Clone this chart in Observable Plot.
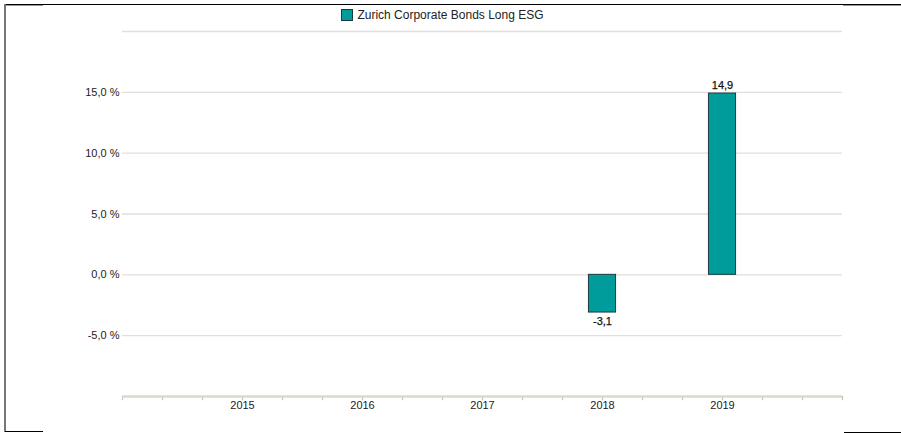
<!DOCTYPE html>
<html>
<head>
<meta charset="utf-8">
<script src="https://cdn.jsdelivr.net/npm/d3@7"></script>
<script src="https://cdn.jsdelivr.net/npm/@observablehq/plot@0.6"></script>
<style>
  html, body { margin: 0; padding: 0; background: #fff; }
  #wrap { position: relative; width: 901px; height: 433px; overflow: hidden; font-family: "Liberation Sans", Arial, sans-serif; }
  #legend { height: 26px; display: flex; justify-content: center; align-items: center; font-size: 12px; color: #222; padding-top: 4px; padding-right: 16px; box-sizing: border-box; }
  #legend .sw { width: 10px; height: 10px; background: #009b9b; border: 1px solid #1d3b3b; margin-right: 4px; }
  .ln { position: absolute; }
</style>
</head>
<body>
<div id="wrap">
  <div id="legend"></div>
  <div id="chart"></div>
  <div class="ln" style="left:5px;top:4px;width:896px;height:1px;background:#000"></div>
  <div class="ln" style="left:5px;top:5px;width:38px;height:1px;background:#999"></div>
  <div class="ln" style="left:843px;top:5px;width:58px;height:1px;background:#999"></div>
  <div class="ln" style="left:4px;top:4px;width:2px;height:428px;background:#777"></div>
  <div class="ln" style="left:5px;top:431px;width:38px;height:1px;background:#000"></div>
  <div class="ln" style="left:844px;top:432px;width:57px;height:1px;background:#000"></div>
</div>
<script>
const seriesName = "Zurich Corporate Bonds Long ESG";
const years = [2015, 2016, 2017, 2018, 2019];
const values = [null, null, null, -3.1, 14.9];
const yTicks = [-5, 0, 5, 10, 15];
const yGrid = [-5, 0, 5, 10, 15, 20];

const data = years.map((y, i) => ({year: y, value: values[i]})).filter(d => d.value != null);
const fmtPct = d => d.toFixed(1).replace(".", ",") + " %";
const fmtVal = d => d.toFixed(1).replace(".", ",");

document.getElementById("legend").innerHTML = `<span class="sw"></span><span>${seriesName}</span>`;

const minorTicks = d3.range(0, 19).map(i => 2014 + i / 3);
const half = 0.113;

const chart = Plot.plot({
  width: 901,
  height: 407,
  marginLeft: 122,
  marginRight: 59,
  marginTop: 5,
  marginBottom: 37,
  style: { fontFamily: "Liberation Sans, Arial, sans-serif", fontSize: "11px", color: "#222", background: "transparent" },
  x: { type: "linear", domain: [2014, 2020], axis: null, label: null },
  y: { domain: [-10, 20], axis: null, label: null },
  marks: [
    Plot.ruleY(yGrid, { stroke: "#e2dfd8", strokeWidth: 1.3 }),
    Plot.axisY(yTicks, { tickSize: 0, tickPadding: 3, tickFormat: fmtPct, fill: "#222", fontSize: 11, label: null }),
    Plot.ruleX(minorTicks, { x: d => d, y1: -10, y2: -10.35, stroke: "#c9c5ba", strokeWidth: 1.3 }),
    Plot.ruleY([-10], { stroke: "#dcd8cf", strokeWidth: 2.5 }),
    Plot.axisX(years, { tickSize: 0, tickPadding: 5, tickFormat: d => String(d), fill: "#222", fontSize: 11, label: null }),
    Plot.rectY(data, { x1: d => d.year - half, x2: d => d.year + half, y1: 0, y2: "value", fill: "#009b9b", stroke: "#1d3b3b", strokeWidth: 1 }),
    Plot.text(data, { x: "year", y: "value", text: d => fmtVal(d.value), fill: "#111", fontSize: 11, stroke: "#111", strokeWidth: 0.25,
      lineAnchor: "bottom", filter: d => d.value >= 0, dy: -5 }),
    Plot.text(data, { x: "year", y: "value", text: d => fmtVal(d.value), fill: "#111", fontSize: 11, stroke: "#111", strokeWidth: 0.25,
      lineAnchor: "top", filter: d => d.value < 0, dy: 5 })
  ]
});
document.getElementById("chart").appendChild(chart);
</script>
</body>
</html>
